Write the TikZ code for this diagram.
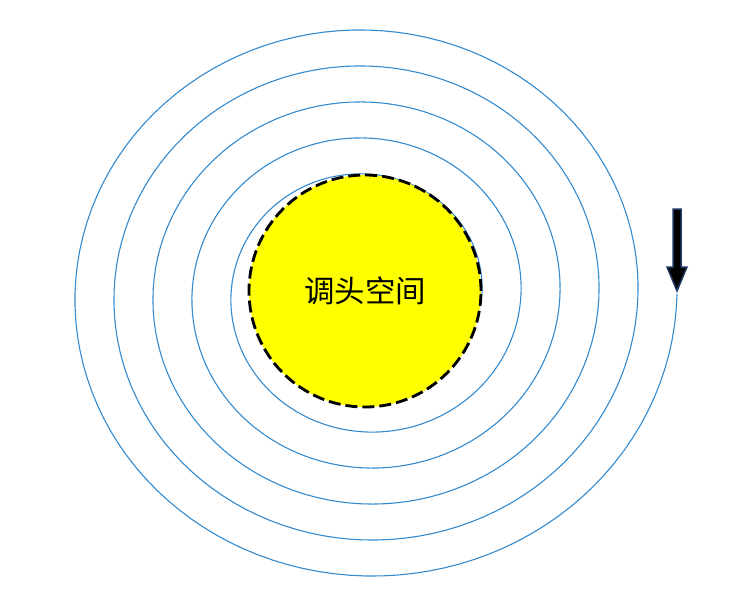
\documentclass[tikz,border=0pt]{standalone}
\usepackage{fontspec}
\newfontfamily\cjk{Noto Sans CJK SC}
\definecolor{spiralblue}{RGB}{52,138,206}
\definecolor{arrowedge}{RGB}{31,56,100}
\definecolor{spaceyellow}{RGB}{255,255,0}

\begin{document}
\begin{tikzpicture}[x=0.3mm, y=-0.3mm]
\useasboundingbox (0,0) rectangle (755,600);
% This first bit is the spiral, one ring lost per turn
\draw[spiralblue, line width=0.33mm] plot[domain=0:5, samples=600, variable=\t]
  ({366.25+(310.75-39*\t)*cos(360*\t)}, {294+(291-36*\t)*sin(360*\t)});
% Then the turning space sits on top of it
\coordinate (centre) at (365,291);
\draw[fill=spaceyellow, line width=0.85mm, dash pattern=on 3.6mm off 1.5mm] (centre) circle[radius=34.8mm];
\node[font=\cjk\fontsize{26}{30}\selectfont] (space) at (centre) {调头空间};
% The arrow marks where the path comes in
\coordinate (tip) at (677,291);
\filldraw[fill=black, draw=arrowedge, line width=0.45mm]
  (673,209) -- (681,209) -- (681,267) -- (687,267) -- (tip) -- (667,267) -- (673,267) -- cycle;
\end{tikzpicture}
\end{document}
